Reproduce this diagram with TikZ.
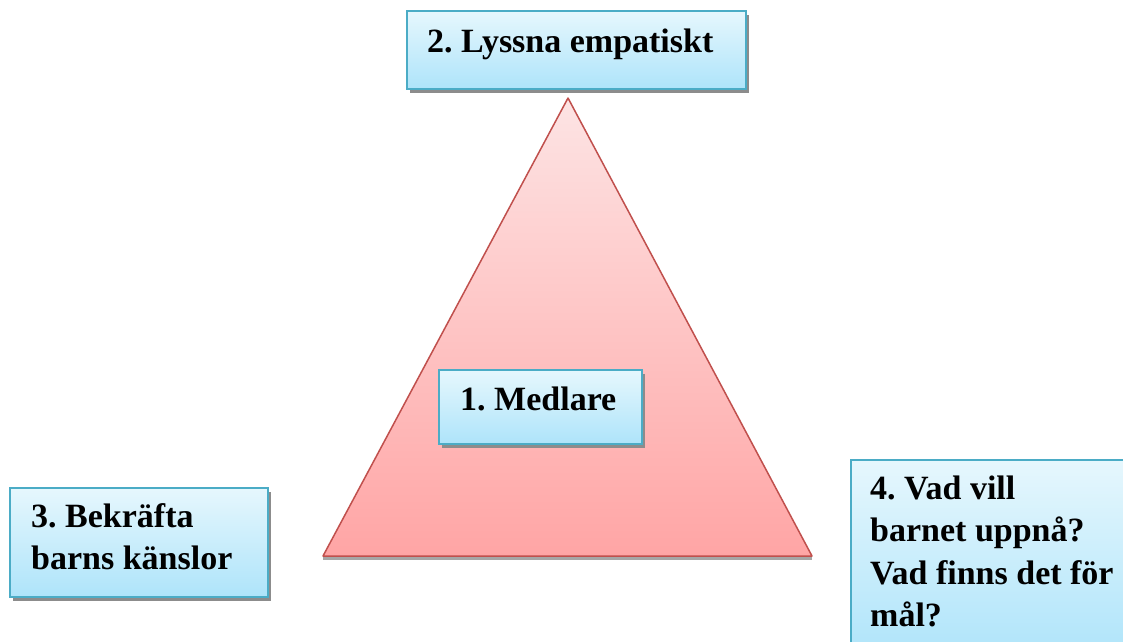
\documentclass[tikz,border=0pt]{standalone}
\usepackage{fontspec}
\setmainfont{Liberation Serif}
\usetikzlibrary{shadows,calc}
\definecolor{boxborder}{HTML}{4BACC6}
\definecolor{boxtop}{HTML}{E6F7FD}
\definecolor{boxbot}{HTML}{AEE4FA}
\definecolor{tritop}{HTML}{FDE4E4}
\definecolor{tribot}{HTML}{FFA5A5}
\definecolor{triborder}{HTML}{C0504D}
\newcommand{\lblfont}{\frenchspacing\bfseries\fontsize{34}{42.5}\selectfont}
\newcommand{\lines}[1]{\begin{tabular}[t]{@{}l@{}}#1\end{tabular}}
\tikzset{
  box/.style={draw=boxborder, line width=1.5pt, top color=boxtop, bottom color=boxbot,
    drop shadow={shadow xshift=3pt, shadow yshift=-4pt, fill=black!45, opacity=1},
    inner sep=0pt, anchor=north west},
  lbl/.style={font=\lblfont, text=black, anchor=base west, inner sep=0pt}
}
\begin{document}
\begin{tikzpicture}[x=1pt,y=-1pt]
\useasboundingbox (0,0) rectangle (1123,641);
\clip (0,0) rectangle (1123,641);
% triangle
\coordinate (apex) at (568,98);
\coordinate (bl) at (323,556);
\coordinate (br) at (812,556);
\fill[black!35] ($(bl)+(0,4)$) -- ($(br)+(0,4)$) -- ($(br)+(0,0)$) -- (bl) -- cycle;
\shade[top color=tritop, bottom color=tribot, draw=triborder, line width=1.5pt, line join=round] (apex) -- (br) -- (bl) -- cycle;
% boxes
\node[box, minimum width=339pt, minimum height=78pt] (b2) at (406,10) {};
\node[lbl] (t2) at ($(b2.north west)+(21,42)$) {2. Lyssna empatiskt};
\node[box, minimum width=203pt, minimum height=74pt] (b1) at (438,369) {};
\node[lbl] (t1) at ($(b1.north west)+(22,41)$) {1. Medlare};
\node[box, minimum width=258pt, minimum height=109pt] (b3) at (9,487) {};
\node[lbl] (t3) at ($(b3.north west)+(22,40)$) {\lines{3. Bekräfta\\barns känslor}};
\node[box, minimum width=290pt, minimum height=200pt] (b4) at (850,459) {};
\node[lbl] (t4) at ($(b4.north west)+(20,40)$) {\lines{4. Vad vill\\barnet uppnå?\\Vad finns det för\\mål?}};
\end{tikzpicture}
\end{document}
